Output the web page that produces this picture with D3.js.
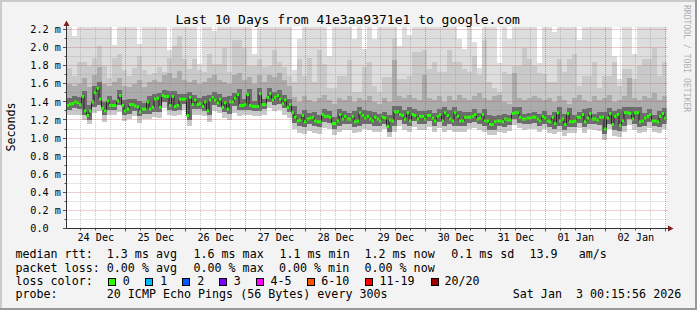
<!DOCTYPE html>
<html><head><meta charset="utf-8">
<script src="https://cdn.jsdelivr.net/npm/d3@7"></script>
<style>
html,body{margin:0;padding:0;background:#f3f3f3;}
svg{display:block;}
text{font-family:"DejaVu Sans Mono",monospace;white-space:pre;}
</style></head><body>
<svg id="c" width="697" height="310"></svg>
<script>
// ---------------- DATA ----------------
const startTime = Date.UTC(2025, 11, 24, 0, 15, 56);
const endTime = Date.UTC(2026, 0, 3, 0, 15, 56);

// hourly median RTT (ms)
const medianRtt = [
1.36,1.375,1.38,1.40,1.39,1.37,1.46,1.30,1.25,1.30,
1.40,1.50,1.55,1.43,1.33,1.30,1.41,1.36,1.36,1.36,
1.41,1.47,1.36,1.30,1.32,1.37,1.37,1.355,1.345,1.29,
1.32,1.32,1.40,1.32,1.34,1.43,1.44,1.34,1.47,1.46,
1.46,1.36,1.46,1.35,1.36,1.43,1.43,1.43,1.25,1.45,
1.37,1.42,1.37,1.38,1.35,1.40,1.30,1.42,1.45,1.42,
1.39,1.43,1.34,1.39,1.32,1.40,1.40,1.44,1.48,1.36,
1.36,1.37,1.48,1.36,1.35,1.35,1.35,1.49,1.37,1.37,
1.45,1.49,1.42,1.45,1.47,1.43,1.38,1.42,1.34,1.37,
1.28,1.23,1.19,1.20,1.25,1.18,1.21,1.22,1.23,1.19,
1.18,1.18,1.26,1.24,1.24,1.23,1.16,1.16,1.19,1.26,
1.21,1.24,1.21,1.21,1.24,1.18,1.19,1.28,1.25,1.22,
1.24,1.21,1.19,1.23,1.21,1.19,1.23,1.22,1.13,1.20,
1.19,1.29,1.29,1.26,1.25,1.21,1.28,1.19,1.26,1.25,
1.21,1.24,1.24,1.21,1.25,1.25,1.22,1.19,1.24,1.26,
1.19,1.28,1.25,1.21,1.19,1.28,1.24,1.19,1.19,1.23,
1.23,1.23,1.24,1.26,1.21,1.22,1.26,1.19,1.19,1.15,
1.15,1.18,1.19,1.19,1.18,1.21,1.20,1.20,1.27,1.28,
1.28,1.23,1.21,1.21,1.22,1.22,1.23,1.23,1.21,1.19,
1.24,1.22,1.19,1.18,1.23,1.16,1.28,1.19,1.21,1.15,
1.27,1.18,1.18,1.19,1.23,1.23,1.26,1.18,1.22,1.27,
1.21,1.21,1.20,1.23,1.23,1.10,1.22,1.27,1.15,1.24,
1.26,1.14,1.19,1.28,1.28,1.27,1.21,1.28,1.28,1.18,
1.19,1.22,1.24,1.26,1.19,1.19,1.18,1.24,1.27,1.22];

// smoke (ping distribution), 2-hour steps (ms)
const pingMin = [
1.25,1.26,1.25,1.20,1.15,1.28,1.30,1.18,1.25,1.25,
1.29,1.19,1.21,1.24,1.17,1.21,1.21,1.23,1.22,1.33,
1.25,1.24,1.25,1.31,1.13,1.26,1.26,1.24,1.18,1.30,
1.28,1.22,1.20,1.28,1.24,1.25,1.25,1.24,1.24,1.26,
1.33,1.30,1.31,1.26,1.22,1.10,1.06,1.05,1.08,1.06,
1.05,1.11,1.10,1.03,1.07,1.09,1.09,1.06,1.07,1.10,
1.09,1.07,1.07,1.10,1.01,1.07,1.13,1.09,1.07,1.12,
1.09,1.09,1.12,1.07,1.11,1.07,1.09,1.07,1.07,1.07,
1.10,1.11,1.09,1.07,1.03,1.03,1.07,1.06,1.08,1.14,
1.11,1.09,1.10,1.10,1.07,1.10,1.06,1.04,1.07,1.02,
1.06,1.06,1.11,1.06,1.10,1.09,1.08,0.98,1.10,1.02,
1.01,1.07,1.14,1.09,1.06,1.07,1.11,1.07,1.06,1.10];
const pingQ1 = [
1.31,1.33,1.32,1.25,1.20,1.34,1.37,1.25,1.31,1.31,
1.36,1.25,1.27,1.30,1.24,1.27,1.27,1.29,1.29,1.40,
1.31,1.30,1.31,1.38,1.20,1.32,1.32,1.30,1.25,1.37,
1.34,1.29,1.27,1.35,1.31,1.31,1.31,1.30,1.30,1.32,
1.40,1.37,1.38,1.33,1.29,1.17,1.13,1.12,1.15,1.13,
1.12,1.18,1.17,1.10,1.13,1.15,1.15,1.12,1.13,1.16,
1.15,1.13,1.13,1.16,1.07,1.13,1.20,1.15,1.13,1.19,
1.15,1.15,1.19,1.13,1.18,1.13,1.15,1.13,1.13,1.13,
1.17,1.18,1.15,1.13,1.09,1.09,1.13,1.12,1.14,1.21,
1.17,1.15,1.16,1.17,1.13,1.16,1.12,1.10,1.13,1.09,
1.12,1.12,1.17,1.12,1.16,1.15,1.14,1.04,1.16,1.09,
1.08,1.13,1.21,1.15,1.12,1.13,1.18,1.13,1.12,1.16];
const pingQ3 = [
1.44,1.46,1.45,1.52,1.37,1.57,1.62,1.40,1.47,1.42,
1.53,1.42,1.43,1.43,1.41,1.39,1.46,1.49,1.50,1.53,
1.52,1.52,1.49,1.49,1.51,1.48,1.44,1.46,1.48,1.51,
1.49,1.45,1.46,1.50,1.54,1.43,1.54,1.41,1.55,1.43,
1.55,1.51,1.53,1.48,1.43,1.35,1.27,1.31,1.28,1.29,
1.25,1.32,1.30,1.23,1.32,1.30,1.28,1.30,1.34,1.31,
1.30,1.29,1.27,1.29,1.26,1.35,1.35,1.31,1.34,1.32,
1.30,1.30,1.31,1.28,1.32,1.34,1.31,1.34,1.30,1.29,
1.29,1.32,1.28,1.32,1.25,1.24,1.25,1.27,1.26,1.34,
1.34,1.27,1.28,1.29,1.27,1.30,1.25,1.29,1.34,1.27,
1.33,1.25,1.29,1.32,1.33,1.27,1.29,1.29,1.33,1.30,
1.32,1.34,1.34,1.34,1.34,1.28,1.32,1.25,1.30,1.33];
const pingP85 = [
1.60,1.58,1.60,1.66,1.56,1.70,1.78,1.60,1.58,1.62,
1.66,1.58,1.56,1.60,1.64,1.56,1.62,1.64,1.62,1.70,
1.72,1.66,1.74,1.64,1.62,1.64,1.60,1.62,1.66,1.70,
1.64,1.62,1.60,1.70,1.72,1.64,1.68,1.60,1.70,1.62,
1.70,1.68,1.72,1.64,1.58,1.45,1.40,1.46,1.42,1.40,
1.44,1.48,1.42,1.38,1.44,1.42,1.46,1.40,1.44,1.42,
1.46,1.40,1.38,1.44,1.40,1.86,1.46,1.44,1.48,1.44,
1.42,1.70,1.44,1.42,1.46,1.40,1.46,1.42,1.48,1.44,
1.42,1.46,1.50,1.44,1.42,1.46,1.48,1.40,1.38,1.72,
1.44,1.42,1.44,1.46,1.44,1.42,1.44,1.40,1.46,1.42,
1.38,1.44,1.48,1.42,1.40,1.46,1.42,1.44,1.48,1.40,
1.42,1.46,1.66,1.44,1.42,1.46,1.44,1.50,1.42,1.46];
const pingP95 = [
1.77,1.69,1.84,1.84,1.80,1.89,2.02,1.80,1.66,1.89,
1.93,1.75,1.69,1.77,1.91,1.75,1.70,1.72,1.78,1.73,
1.88,2.02,2.13,1.875,1.765,1.875,1.75,1.73,1.93,1.82,
1.82,1.99,1.73,2.08,2.08,1.99,1.80,1.80,1.875,1.78,
1.80,1.97,1.84,1.78,1.69,1.62,1.875,1.69,1.89,1.62,
1.97,1.82,1.55,1.55,1.69,1.69,1.86,1.51,1.51,1.78,
1.84,1.58,1.51,1.67,1.67,2.10,1.65,1.65,1.69,1.95,
1.95,1.97,1.765,1.84,1.73,1.73,1.97,1.84,1.84,1.765,
1.73,1.91,1.70,2.08,1.62,1.55,1.51,1.73,1.71,1.80,
1.80,1.99,1.875,1.80,1.72,1.71,1.62,1.62,1.875,1.73,
1.875,1.93,1.58,1.69,1.69,1.84,1.55,1.69,1.69,1.84,
1.58,1.765,1.765,1.65,1.80,1.875,1.875,1.99,1.69,1.84];
const pingMax = [
2.30,2.13,2.30,2.30,2.30,2.30,2.30,2.30,2.30,2.03,
2.30,2.30,2.30,2.30,2.04,2.30,2.30,2.30,2.30,2.30,
1.97,2.30,2.30,2.30,2.30,2.30,1.82,2.30,2.30,2.18,
2.30,2.30,2.30,2.30,2.30,2.30,2.30,1.93,2.30,2.30,
2.30,2.30,2.30,2.30,2.30,1.75,2.10,2.30,2.30,2.30,
2.30,2.30,1.91,2.30,2.30,2.30,2.30,2.09,2.30,1.98,
2.30,2.10,2.30,2.30,2.30,2.30,2.02,2.30,2.14,2.30,
2.30,2.30,2.30,2.30,2.30,2.30,2.30,2.30,2.09,1.98,
2.30,2.06,1.77,2.30,2.30,2.30,1.83,2.30,2.10,2.30,
2.30,2.30,2.30,2.30,1.83,2.30,2.30,2.17,2.30,2.30,
2.30,2.30,2.08,2.30,2.30,2.30,2.30,2.30,2.30,1.91,
1.65,2.30,2.30,1.93,2.30,2.30,2.30,2.30,2.30,2.30];

const yTickValues = [0,0.2,0.4,0.6,0.8,1.0,1.2,1.4,1.6,1.8,2.0,2.2];
const yTickLabels = ["0.0","0.2 m","0.4 m","0.6 m","0.8 m","1.0 m","1.2 m","1.4 m","1.6 m","1.8 m","2.0 m","2.2 m"];
const xTickLabels = ["24 Dec","25 Dec","26 Dec","27 Dec","28 Dec","29 Dec","30 Dec","31 Dec","01 Jan","02 Jan"];

const titleText = "Last 10 Days from 41e3aa9371e1 to google.com";
const rttStats = ["1.3 ms avg","1.6 ms max","1.1 ms min","1.2 ms now","0.1 ms sd","13.9","am/s"];
const lossStats = ["0.00 % avg","0.00 % max","0.00 % min","0.00 % now"];
const lossLabels = ["0","1","2","3","4-5","6-10","11-19","20/20"];
const lossColors = ["#26ff00","#00b8ff","#0059ff","#7e00ff","#ff00ff","#ff5500","#ff0000","#a10000"];
const probeText = "20 ICMP Echo Pings (56 Bytes) every 300s";
const dateText = "Sat Jan  3 00:15:56 2026";

// ---------------- LAYOUT ----------------
const W = 697, H = 310;
const L = 66.5, R = 666.5, T = 27, B = 228.5;
const svg = d3.select("#c");
const x = d3.scaleUtc().domain([startTime, endTime]).range([L, R]);
const y = d3.scaleLinear().domain([0, 2.2]).range([B, 29.5]);

svg.append("rect").attr("width", W).attr("height", H).attr("fill", "#f3f3f3");
svg.append("rect").attr("x",0).attr("y",0).attr("width",W).attr("height",2).attr("fill","#cbcbcb");
svg.append("rect").attr("x",0).attr("y",0).attr("width",2).attr("height",H).attr("fill","#cbcbcb");
svg.append("rect").attr("x",0).attr("y",H-2).attr("width",W).attr("height",2).attr("fill","#999999");
svg.append("rect").attr("x",W-2).attr("y",0).attr("width",2).attr("height",H).attr("fill","#999999");

svg.append("defs").append("clipPath").attr("id","plotclip")
  .append("rect").attr("x",L).attr("y",T).attr("width",R-L).attr("height",B-T);
svg.append("rect").attr("x",L).attr("y",T).attr("width",R-L).attr("height",B-T).attr("fill","#ffffff");

const plot = svg.append("g").attr("clip-path","url(#plotclip)");

// smoke
const step2h = 2*3600e3;
const smoke = pingMin.map((v,j)=>({t:startTime + j*step2h, j}));
smoke.push({t:endTime, j:pingMin.length-1});
function band(lo, hi, color){
  const area = d3.area().curve(d3.curveStepAfter)
    .x(d=>x(d.t)).y0(d=>y(lo[d.j])).y1(d=>y(hi[d.j]));
  plot.append("path").datum(smoke).attr("d",area).attr("fill",color)
    .attr("shape-rendering","crispEdges");
}
band(pingMin, pingMax, "#dddddd");
band(pingMin, pingP95, "#c9c9c9");
band(pingQ1, pingP85, "#ababab");
band(pingQ1, pingQ3, "#6c6c6c");

// grid
const grid = svg.append("g");
const minorY = y.ticks(22);
minorY.forEach(v=>{
  const yy = Math.floor(y(v))+0.5;
  const major = Math.abs(Math.round(v*10)%2)===0;
  grid.append("line").attr("x1",L).attr("x2",R+2).attr("y1",yy).attr("y2",yy)
    .attr("stroke", major ? "rgba(200,60,60,0.5)" : "rgba(140,140,140,0.45)")
    .attr("stroke-dasharray","1,1");
  grid.append("line").attr("x1", major?63:64.5).attr("x2",L).attr("y1",yy).attr("y2",yy)
    .attr("stroke", "#555");
});
const vTimes = d3.utcHour.every(6).range(new Date(startTime), new Date(endTime));
vTimes.forEach(t=>{
  const xx = Math.floor(x(t))+0.5;
  const major = t.getUTCHours()===0;
  grid.append("line").attr("x1",xx).attr("x2",xx).attr("y1",T).attr("y2",B)
    .attr("stroke", major ? "rgba(200,60,60,0.5)" : "rgba(140,140,140,0.45)")
    .attr("stroke-dasharray","1,1");
  grid.append("line").attr("x1",xx).attr("x2",xx).attr("y1",B).attr("y2",B+(major?3:2))
    .attr("stroke","#555");
});

// median
const hour = 3600e3;
const med = medianRtt.map((v,i)=>({t:startTime+i*hour, v}));
med.push({t:endTime, v:medianRtt[medianRtt.length-1]});
plot.append("path").datum(med)
  .attr("d", d3.line().curve(d3.curveStepAfter).x(d=>x(d.t)).y(d=>y(d.v)))
  .attr("fill","none").attr("stroke","#202020").attr("stroke-width",1);
plot.selectAll("rect.m").data(medianRtt).enter().append("rect")
  .attr("x",(v,i)=>x(startTime+i*hour))
  .attr("width",(v,i)=>x(startTime+(i+1)*hour)-x(startTime+i*hour))
  .attr("y",v=>y(v)-1.5).attr("height",3)
  .attr("fill",lossColors[0]);

// axes
svg.append("line").attr("x1",L).attr("x2",L).attr("y1",B).attr("y2",24).attr("stroke","#333");
svg.append("line").attr("x1",L).attr("x2",669).attr("y1",B).attr("y2",B).attr("stroke","#333");
svg.append("path").attr("d",`M${L-3},26L${L+3},26L${L},20.5Z`).attr("fill","#7f1f1f");
svg.append("path").attr("d",`M668,${B-3}L668,${B+3}L673.5,${B}Z`).attr("fill","#7f1f1f");

// y labels
yTickValues.forEach((v,k)=>{
  svg.append("text").attr("x",30.3).attr("y",y(v)).attr("dy","0.36em")
    .attr("font-size","10.2px").attr("fill","#000").text(yTickLabels[k]);
});
// x labels at noon of each day
const day0 = d3.utcDay.floor(new Date(startTime));
xTickLabels.forEach((lab,k)=>{
  const t = d3.utcHour.offset(d3.utcDay.offset(day0,k),12);
  svg.append("text").attr("x",x(t)).attr("y",240.5).attr("text-anchor","middle")
    .attr("font-size","10.2px").attr("fill","#000").text(lab);
});

// title
svg.append("text").attr("x",347.7).attr("y",24).attr("text-anchor","middle")
  .attr("font-size","13px").attr("fill","#000").text(titleText);
// y title
svg.append("text").attr("transform","translate(15,127) rotate(-90)").attr("text-anchor","middle")
  .attr("font-size","11.67px").attr("fill","#000").text("Seconds");
// watermark
svg.append("text").attr("transform","translate(683.5,5) rotate(90)")
  .attr("font-size","8.1px").attr("fill","#b0b0b0").text("RRDTOOL / TOBI OETIKER");

// legend
const fs = "11.67px";
function lt(xp, yp, s){ svg.append("text").attr("x",xp).attr("y",yp).attr("font-size",fs).attr("fill","#000").text(s); }
const rowY = [258.3, 271.5, 284.8, 298];
lt(15.5,rowY[0],"median rtt:");
[106.8,193.5,279.5,364.5,451.2,529.5,578.8].forEach((xp,k)=>lt(xp,rowY[0],rttStats[k]));
lt(15.5,rowY[1],"packet loss:");
[106.8,193.5,279,364.5].forEach((xp,k)=>lt(xp,rowY[1],lossStats[k]));
lt(15.5,rowY[2],"loss color:");
const boxX = [108.5,145.5,182.5,219.5,256.5,307.5,365.5,431.5];
const labX = [122.8,160.2,197.2,233.8,270.5,321.2,379.5,444.5];
lossLabels.forEach((lab,k)=>{
  svg.append("rect").attr("x",boxX[k]).attr("y",278.5).attr("width",7).attr("height",7)
    .attr("fill",lossColors[k]).attr("stroke","#000").attr("stroke-width",1);
  lt(labX[k],rowY[2],lab);
});
lt(15.5,rowY[3],"probe:");
lt(106.8,rowY[3],probeText);
lt(512.8,rowY[3],dateText);
</script>
</body></html>
